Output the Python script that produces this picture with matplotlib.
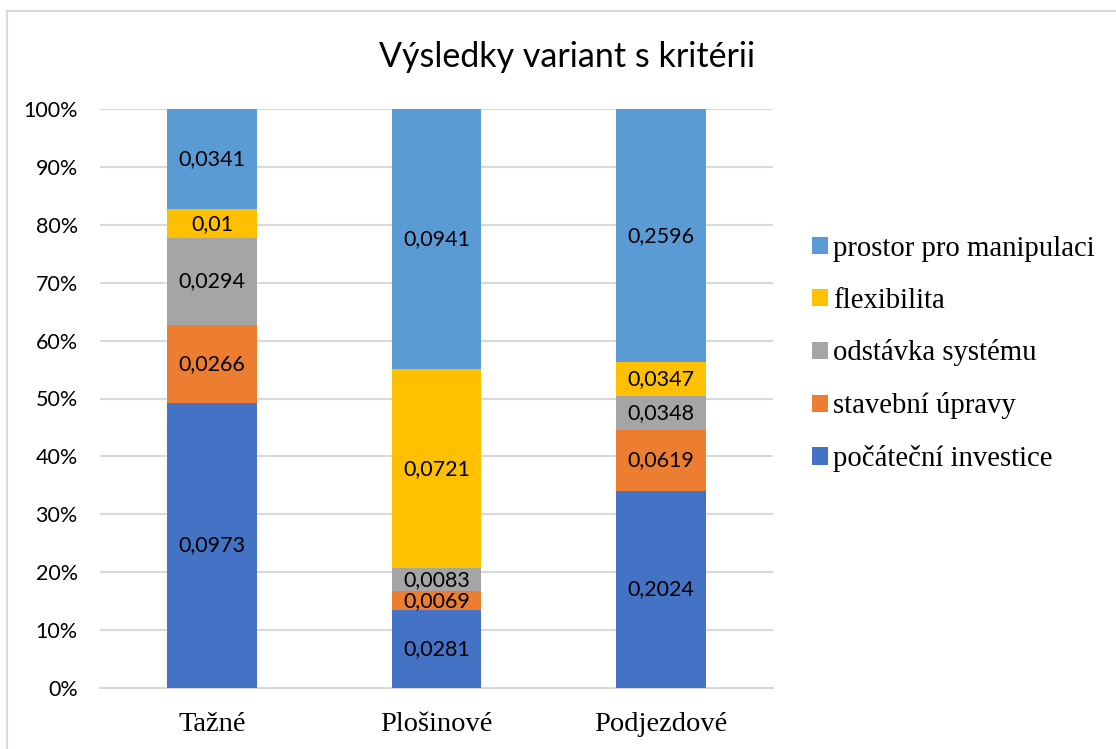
import matplotlib
matplotlib.use("Agg")
import matplotlib.pyplot as plt
from matplotlib.patches import Rectangle, Patch
import numpy as np

categories = ["Tažné", "Plošinové", "Podjezdové"]
series_names = ["počáteční investice", "stavební úpravy", "odstávka systému",
                "flexibilita", "prostor pro manipulaci"]
pocatecni = [0.0973, 0.0281, 0.2024]
stavebni = [0.0266, 0.0069, 0.0619]
odstavka = [0.0294, 0.0083, 0.0348]
flexibilita = [0.01, 0.0721, 0.0347]
prostor = [0.0341, 0.0941, 0.2596]
label_texts = [
    ["0,0973", "0,0281", "0,2024"],
    ["0,0266", "0,0069", "0,0619"],
    ["0,0294", "0,0083", "0,0348"],
    ["0,01", "0,0721", "0,0347"],
    ["0,0341", "0,0941", "0,2596"],
]
colors = ["#4472C4", "#ED7D31", "#A5A5A5", "#FFC000", "#5B9BD5"]
yticklabels = ["0%", "10%", "20%", "30%", "40%", "50%", "60%", "70%", "80%", "90%", "100%"]

W, H = 1116, 749
fig = plt.figure(figsize=(W / 100, H / 100), dpi=100)
fig.patches.append(Rectangle((7 / W, -0.01), 1.2, 1 - 11 / H + 0.01, transform=fig.transFigure,
                             fill=False, edgecolor="#D9D9D9", linewidth=1.5))
ax = fig.add_axes([100 / W, 1 - 688 / H, (773 - 100) / W, (688 - 109) / H])

data = np.array([pocatecni, stavebni, odstavka, flexibilita, prostor])
totals = data.sum(axis=0)
pct = data / totals * 100
x = np.arange(len(categories))
bottom = np.zeros(len(categories))
for i in range(len(series_names)):
    bars = ax.bar(x, pct[i], 0.40, bottom=bottom, color=colors[i], label=series_names[i], zorder=3)
    for j, b in enumerate(bars):
        cy = bottom[j] + pct[i][j] / 2
        ax.text(x[j], cy, label_texts[i][j], ha="center", va="center",
                fontsize=15.5, family="Lato", color="black", zorder=4)
    bottom += pct[i]

ax.set_xlim(-0.5, 2.5)
ax.set_ylim(0, 100)
ax.set_yticks(np.arange(0, 101, 10))
ax.set_yticklabels(yticklabels, family="Lato", fontsize=15.5)
ax.set_xticks(x)
ax.set_xticklabels(categories, family="Liberation Serif", fontsize=20.5)
ax.tick_params(axis="both", length=0)
ax.tick_params(axis="y", pad=16)
ax.tick_params(axis="x", pad=17)
ax.grid(axis="y", color="#D9D9D9", linewidth=1.5, zorder=0)
for s in ["top", "right", "left"]:
    ax.spines[s].set_visible(False)
ax.spines["bottom"].set_color("#D9D9D9")
ax.spines["bottom"].set_linewidth(1.5)

fig.text(567 / W, 1 - 57 / H, "Výsledky variant s kritérii", ha="center", va="center",
         fontsize=24.5, family="Lato")

handles = [Patch(facecolor=colors[i], label=series_names[i]) for i in range(len(colors))][::-1]
leg = fig.legend(handles=handles, loc="center left", bbox_to_anchor=(786 / W, 1 - 354 / H),
                 frameon=False, prop={"family": "Liberation Serif", "size": 20.7},
                 handlelength=0.55, handleheight=0.55, handletextpad=0.2, labelspacing=0.9)

fig.savefig("out.png", dpi=100)
